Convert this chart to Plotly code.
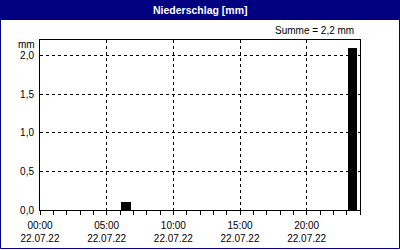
import plotly.graph_objects as go

# ---- data ----
hours = list(range(24))
precip_mm = [0, 0, 0, 0, 0, 0, 0.1, 0, 0, 0, 0, 0,
             0, 0, 0, 0, 0, 0, 0, 0, 0, 0, 0, 2.1]
tick_hours = [0, 5, 10, 15, 20]
tick_times = ["00:00", "05:00", "10:00", "15:00", "20:00"]
tick_dates = ["22.07.22", "22.07.22", "22.07.22", "22.07.22", "22.07.22"]
title_text = "Niederschlag [mm]"
unit_text = "mm"

W, H = 400, 250
ML, MR, MT, MB = 40, 40, 40, 40
PW, PH = W - ML - MR, H - MT - MB

def px(x):
    return (x - ML) / PW

def py(y):
    return (H - MB - y) / PH

NAVY = "#000080"
FONT = "Liberation Sans, Arial, sans-serif"

total = sum(precip_mm)
summe_text = "Summe = " + f"{total:.1f}".replace(".", ",") + " mm"

fig = go.Figure()
fig.add_trace(go.Bar(
    x=hours, y=precip_mm, width=0.72, offset=0.08,
    marker=dict(color="black", line=dict(width=0)),
    showlegend=False, hoverinfo="skip",
))

fig.update_layout(
    width=W, height=H,
    margin=dict(l=ML, r=MR, t=MT, b=MB, pad=0, autoexpand=False),
    paper_bgcolor="white", plot_bgcolor="white",
    separators=",.",
    font=dict(family=FONT, size=10, color="black"),
    bargap=0,
    xaxis=dict(
        range=[0, 24], tickvals=tick_hours,
        ticktext=[t + "<br>" + d for t, d in zip(tick_times, tick_dates)],
        ticks="outside", ticklen=4, tickcolor="black", tickwidth=1,
        minor=dict(dtick=1, tick0=0, ticks="outside", ticklen=4,
                   tickcolor="black", tickwidth=1, showgrid=False),
        showgrid=True, gridcolor="black", gridwidth=1, griddash="3px,3px",
        showline=True, linecolor="black", linewidth=1, mirror=True,
        zeroline=False, fixedrange=True, ticklabelstandoff=2,
        automargin=False,
        tickfont=dict(family=FONT, size=10, color="black"),
    ),
    yaxis=dict(
        range=[0, 2.2], dtick=0.5, tick0=0, tickformat=".1f",
        ticks="", showgrid=True, gridcolor="black", gridwidth=1,
        griddash="3px,3px",
        showline=True, linecolor="black", linewidth=1, mirror=True,
        zeroline=False, fixedrange=True, ticklabelstandoff=3,
        automargin=False,
        tickfont=dict(family=FONT, size=10, color="black"),
    ),
    shapes=[
        dict(type="rect", xref="paper", yref="paper",
             x0=px(0), x1=px(W), y0=py(20), y1=py(0),
             fillcolor=NAVY, line=dict(width=0), layer="below"),
        dict(type="rect", xref="paper", yref="paper",
             x0=px(0.5), x1=px(W - 0.5), y0=py(H - 1.5), y1=py(0.5),
             fillcolor="rgba(0,0,0,0)", line=dict(color=NAVY, width=1)),
    ],
    annotations=[
        dict(text="<b>" + title_text + "</b>", xref="paper", yref="paper",
             x=0.5, y=py(10), xanchor="center", yanchor="middle",
             showarrow=False, font=dict(family=FONT, size=10.5, color="white")),
        dict(text=summe_text, xref="paper", yref="paper",
             x=px(356), y=py(31), xanchor="right", yanchor="middle",
             showarrow=False, font=dict(family=FONT, size=10, color="black")),
        dict(text=unit_text, xref="paper", yref="paper",
             x=px(37), y=py(44), xanchor="right", yanchor="middle",
             showarrow=False, font=dict(family=FONT, size=10, color="black")),
    ],
)

fig.write_html("out.html")
